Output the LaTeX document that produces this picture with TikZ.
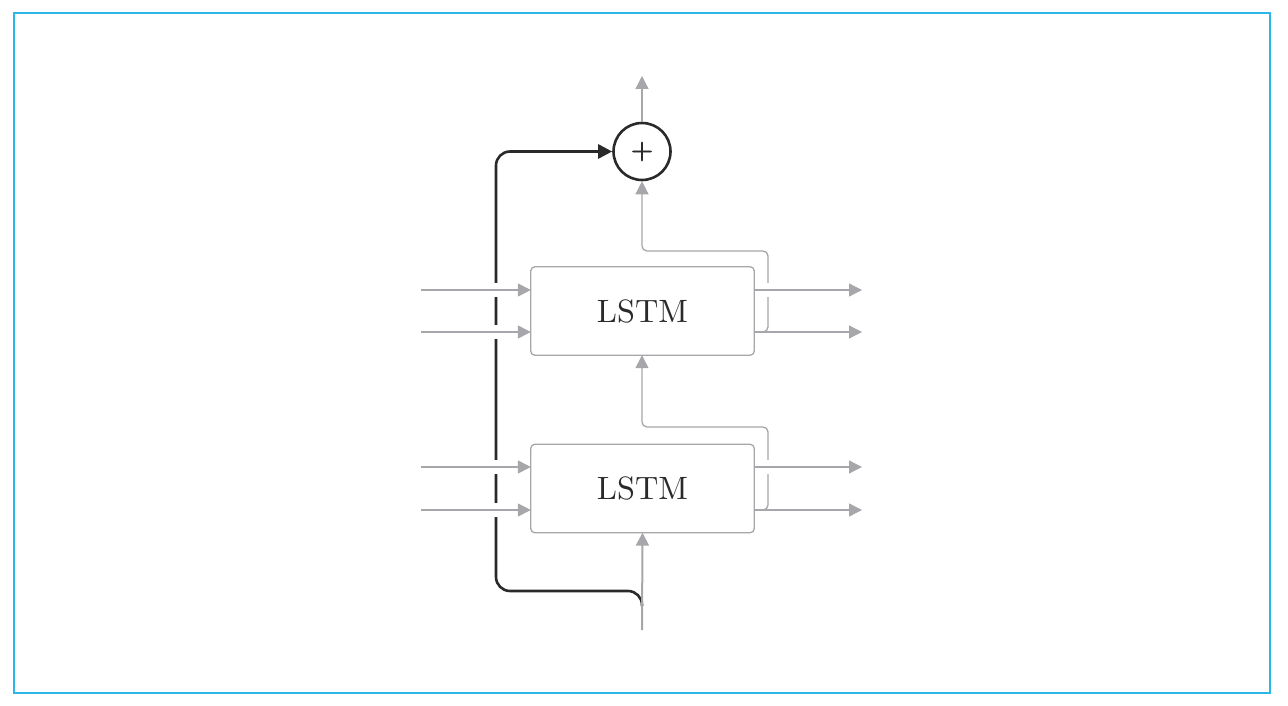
\documentclass[tikz,border=0pt]{standalone}
\usepackage{fontspec}
\usetikzlibrary{arrows.meta}
\newfontfamily\cellfont{lmroman10-regular.otf}
\newfontfamily\plusfont[FakeBold=3]{lmroman10-regular.otf}
\definecolor{framecol}{HTML}{2BB8E8}
\definecolor{ink}{HTML}{2A2A2A}
\definecolor{wire}{HTML}{A6A6AB}
\tikzset{
  frame/.style={draw=framecol, line width=1.4pt},
  lstm/.style={minimum width=223pt, minimum height=88pt, inner sep=0pt,
    font=\cellfont\fontsize{32.3}{38}\selectfont, text=ink},
  cellborder/.style={draw=wire, line width=1.3pt, rounded corners=4pt},
  sumnode/.style={circle, draw=ink, line width=2.6pt, minimum size=57pt, inner sep=0pt,
    font=\plusfont\fontsize{28}{28}\selectfont, text=ink},
  gline/.style={draw=wire, line width=1.3pt},
  garrow/.style={gline, -{Triangle[length=13pt,width=13pt]}},
  darrow/.style={draw=ink, line width=2.6pt, rounded corners=14pt, -{Triangle[length=14pt,width=14pt]}},
  gapped/.style={preaction={draw=white, line width=14pt, arrows=-, shorten >=30pt}}
}
\begin{document}
\begin{tikzpicture}[x=1pt,y=-1pt]
  \useasboundingbox (0,0) rectangle (1288,706);
  \draw[frame] (14,13) rectangle (1270,693);

  % summation node and the two stacked cells
  \node[sumnode] (sum) at (642,151.5) {+};
  \node[lstm] (top) at (642.5,311) {LSTM};
  \node[lstm] (bot) at (642.5,488.5) {LSTM};

  % free ends
  \coordinate (out) at (642,76);
  \coordinate (src) at (642,630);
  \coordinate (split) at (642,606);
  \coordinate (ta) at (421,290);
  \coordinate (tb) at (421,332);
  \coordinate (ba) at (421,467);
  \coordinate (bb) at (421,510);
  \coordinate (toa) at (862,290);
  \coordinate (tob) at (862,332);
  \coordinate (boa) at (862,467);
  \coordinate (bob) at (862,510);

  % residual skip connection
  \draw[darrow] (split) -- (642,591) -- (496,591) -- (496,151.5) -- (sum.west);

  % input to the lower cell
  \draw[garrow, line width=2pt] (src) -- (bot.south);

  % cell outputs feeding upward
  \draw[garrow, rounded corners=5pt] (bot.east |- bob) -- (768,510) -- (768,427) -- (642,427) -- (top.south -| 642,0);
  \draw[garrow, rounded corners=5pt] (top.east |- tob) -- (768,332) -- (768,251) -- (642,251) -- (sum.south);

  % side inputs
  \draw[garrow, gapped] (ta) -- (ta -| top.west);
  \draw[garrow, gapped] (tb) -- (tb -| top.west);
  \draw[garrow, gapped] (ba) -- (ba -| bot.west);
  \draw[garrow, gapped] (bb) -- (bb -| bot.west);

  % side outputs
  \draw[garrow, gapped] (toa -| top.east) -- (toa);
  \draw[garrow] (tob -| top.east) -- (tob);
  \draw[garrow, gapped] (boa -| bot.east) -- (boa);
  \draw[garrow] (bob -| bot.east) -- (bob);

  % output of the sum
  \draw[garrow] (sum) -- (out);

  % cell borders, drawn over the gaps
  \draw[cellborder] (top.south west) rectangle (top.north east);
  \draw[cellborder] (bot.south west) rectangle (bot.north east);
\end{tikzpicture}
\end{document}
